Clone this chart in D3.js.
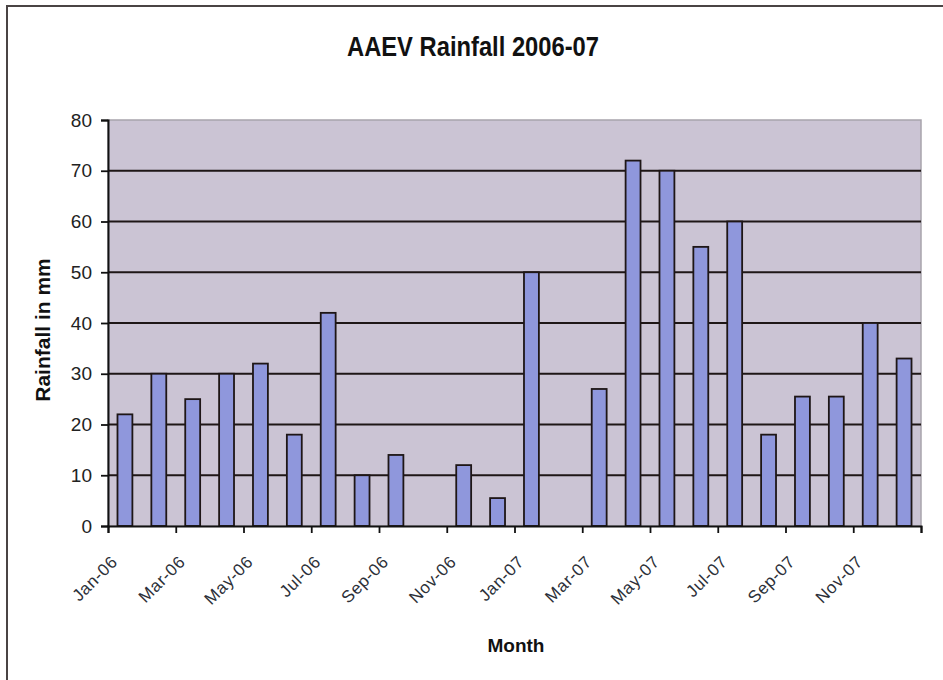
<!DOCTYPE html>
<html>
<head>
<meta charset="utf-8">
<script src="https://d3js.org/d3.v7.min.js"></script>
<style>
  body { margin: 0; background: #fff; }
  svg { display: block; font-family: "Liberation Sans", Arial, sans-serif; }
</style>
</head>
<body>
<svg id="chart" width="943" height="680"></svg>
<script>
// 月份
var months = ['Jan-06', 'Feb-06', 'Mar-06', 'Apr-06', 'May-06', 'Jun-06',
  'Jul-06', 'Aug-06', 'Sep-06', 'Oct-06', 'Nov-06', 'Dec-06',
  'Jan-07', 'Feb-07', 'Mar-07', 'Apr-07', 'May-07', 'Jun-07',
  'Jul-07', 'Aug-07', 'Sep-07', 'Oct-07', 'Nov-07', 'Dec-07']
// 降雨量 mm
var rainfall = [22, 30, 25, 30, 32, 18, 42, 10, 14, 0, 12, 5.5,
  50, 0, 27, 72, 70, 55, 60, 18, 25.5, 25.5, 40, 33]
// x 轴标签（每两个月一个）
var tickLabels = ['Jan-06', 'Mar-06', 'May-06', 'Jul-06', 'Sep-06', 'Nov-06',
  'Jan-07', 'Mar-07', 'May-07', 'Jul-07', 'Sep-07', 'Nov-07']
var yTicks = [0, 10, 20, 30, 40, 50, 60, 70, 80]

var svg = d3.select('#chart')
var plotLeft = 108, plotRight = 921, plotTop = 120, plotBottom = 526

// 外框
svg.append('path')
  .attr('d', 'M7,680V6H943')
  .attr('fill', 'none')
  .attr('stroke', '#4a4444')
  .attr('stroke-width', 2)

var x = d3.scaleBand().domain(months).range([plotLeft, plotRight])
  .paddingInner(0.56).paddingOuter(0.28)
var xIdx = d3.scaleLinear().domain([0, months.length]).range([plotLeft, plotRight])
var y = d3.scaleLinear().domain([0, 80]).range([plotBottom, plotTop])

// 绘图区背景
svg.append('rect')
  .attr('x', plotLeft).attr('y', plotTop)
  .attr('width', plotRight - plotLeft).attr('height', plotBottom - plotTop)
  .attr('fill', '#cbc4d4')
  .attr('stroke', '#a8a4ac')
  .attr('stroke-width', 1.5)

// 网格线
svg.append('g')
  .selectAll('line')
  .data(yTicks.filter((d) => d > 0 && d < 80))
  .join('line')
  .attr('x1', plotLeft).attr('x2', plotRight)
  .attr('y1', (d) => y(d)).attr('y2', (d) => y(d))
  .attr('stroke', '#1e1616')
  .attr('stroke-width', 2)

// 柱子
svg.append('g')
  .selectAll('rect')
  .data(rainfall)
  .join('rect')
  .attr('x', (d, i) => x(months[i]))
  .attr('y', (d) => y(d))
  .attr('width', x.bandwidth())
  .attr('height', (d) => y(0) - y(d))
  .attr('fill', '#8f97dc')
  .attr('stroke', (d) => (d > 0 ? '#1e1616' : 'none'))
  .attr('stroke-width', 1.8)

// y 轴
var yAxis = svg.append('g')
  .attr('transform', `translate(${plotLeft},0)`)
  .call(d3.axisLeft(y).tickValues(yTicks).tickSize(7).tickPadding(9))
yAxis.select('.domain').attr('stroke', '#111').attr('stroke-width', 2)
yAxis.selectAll('.tick line').attr('stroke', '#111').attr('stroke-width', 1.8)
yAxis.selectAll('.tick text')
  .attr('font-size', 19)
  .attr('fill', '#222')
  .attr('font-family', '"Liberation Sans", Arial, sans-serif')

// x 轴
var xAxis = svg.append('g')
  .attr('transform', `translate(0,${plotBottom})`)
  .call(d3.axisBottom(xIdx)
    .tickValues(d3.range(0, months.length + 1, 2))
    .tickSize(7)
    .tickFormat((i) => tickLabels[i / 2] || ''))
xAxis.select('.domain').attr('stroke', '#111').attr('stroke-width', 2)
xAxis.selectAll('.tick line').attr('stroke', '#111').attr('stroke-width', 1.8)
xAxis.selectAll('.tick text')
  .attr('font-size', 17)
  .attr('letter-spacing', 0.6)
  .attr('fill', '#2c3038')
  .attr('font-family', '"Liberation Sans", Arial, sans-serif')
  .attr('text-anchor', 'end')
  .attr('y', 0).attr('dy', 0)
  .attr('transform', 'translate(10,37) rotate(-45)')

// 标题
svg.append('text')
  .attr('x', 473).attr('y', 56)
  .attr('text-anchor', 'middle')
  .attr('font-size', 28)
  .attr('font-weight', 'bold')
  .attr('textLength', 252)
  .attr('lengthAdjust', 'spacingAndGlyphs')
  .attr('fill', '#111')
  .text('AAEV Rainfall 2006-07')

// 轴标题
svg.append('text')
  .attr('transform', 'translate(50,330) rotate(-90)')
  .attr('text-anchor', 'middle')
  .attr('font-size', 21)
  .attr('font-weight', 'bold')
  .attr('fill', '#111')
  .text('Rainfall in mm')

svg.append('text')
  .attr('x', 516).attr('y', 652)
  .attr('text-anchor', 'middle')
  .attr('font-size', 19)
  .attr('font-weight', 'bold')
  .attr('fill', '#111')
  .text('Month')
</script>
</body>
</html>
